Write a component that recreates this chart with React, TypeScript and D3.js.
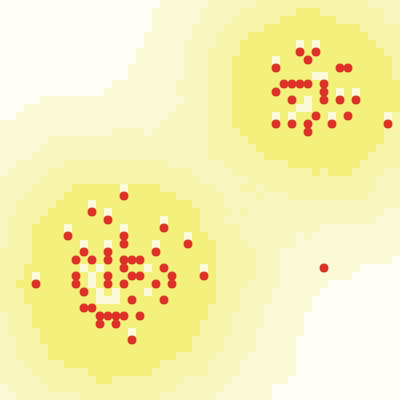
import React, { useEffect, useRef } from 'react';
import * as d3 from 'd3';

// point positions as grid cell indices (column, row) on a 50 x 50 grid
const pointCols = [
  37, 39, 38, 34, 42, 43, 35, 36, 37, 38, 40, 34, 40, 36, 40, 42, 44, 39, 43, 34, 36, 38, 41, 48, 38, 40,
  15, 11, 13, 20, 8, 15, 15, 23, 10, 13, 19, 9, 11, 13, 15, 16, 17, 15, 20, 9, 13, 16, 17, 21, 25,
  4, 9, 13, 15, 19, 21, 10, 16, 20, 10, 11, 12, 13, 14, 15, 17, 12, 14, 16,
];
const pointRows = [
  6, 6, 7, 8, 8, 8, 10, 10, 10, 10, 10, 11, 11, 12, 12, 12, 12, 14, 14, 15, 15, 15, 15, 15, 16, 33,
  24, 26, 27, 28, 29, 29, 30, 30, 31, 31, 31, 32, 32, 32, 32, 32, 32, 33, 33, 34, 34, 34, 34, 34, 34,
  35, 35, 35, 35, 35, 35, 36, 37, 37, 38, 38, 39, 39, 39, 39, 39, 40, 40, 42,
];

const GRID = 50;
const K = 10;
const bandColors = ['#f3f17c', '#f6f5a9', '#f8f7c2', '#fafad6', '#fefef6'];
const paleColor = '#fbfbdc';

const App = () => {
  const svgRef = useRef(null);

  useEffect(() => {
    const width = 400;
    const height = 400;
    const svg = d3.select(svgRef.current);
    svg.selectAll('*').remove();

    const x = d3.scaleLinear().domain([0, GRID]).range([0, width]);
    const y = d3.scaleLinear().domain([0, GRID]).range([0, height]);

    const points = pointCols.map((c, i) => ({ c: c + 0.5, r: pointRows[i] + 0.5 }));
    const occupied = new Set(pointCols.map((c, i) => `${c},${pointRows[i]}`));

    // neighbour distances (in cells) for each grid cell
    const cells = [];
    for (let r = 0; r < GRID; r++) {
      for (let c = 0; c < GRID; c++) {
        const cx = c + 0.5;
        const cy = r + 0.5;
        const ds = points.map(p => Math.hypot(p.c - cx, p.r - cy)).sort((a, b) => a - b);
        cells.push({ c, r, d1: ds[0], d2: ds[1], dk: ds[K - 1], below: occupied.has(`${c},${r + 1}`) });
      }
    }

    const band = d3.scaleThreshold()
      .domain([9.5, 12.8, 16, 21])
      .range(bandColors);

    const fill = d => {
      const lonelyAbove = d.below && d.d2 >= 1.9 && d.dk < 9.5;
      const hole = d.d1 >= 1.4 && d.dk < 3.8;
      if (lonelyAbove || hole) return paleColor;
      return band(d.dk);
    };

    svg.append('g')
      .attr('shape-rendering', 'crispEdges')
      .selectAll('rect')
      .data(cells)
      .join('rect')
      .attr('x', d => x(d.c))
      .attr('y', d => y(d.r))
      .attr('width', x(1) - x(0))
      .attr('height', y(1) - y(0))
      .attr('fill', fill);

    svg.append('g')
      .selectAll('circle')
      .data(points)
      .join('circle')
      .attr('cx', d => x(d.c))
      .attr('cy', d => y(d.r))
      .attr('r', 4.5)
      .attr('fill', '#dc3126');
  }, []);

  return (
    <div style={{ position: 'fixed', left: 0, top: 0, width: 400, height: 400 }}>
      <svg ref={svgRef} width={400} height={400} style={{ display: 'block' }} />
    </div>
  );
};

export default App;
